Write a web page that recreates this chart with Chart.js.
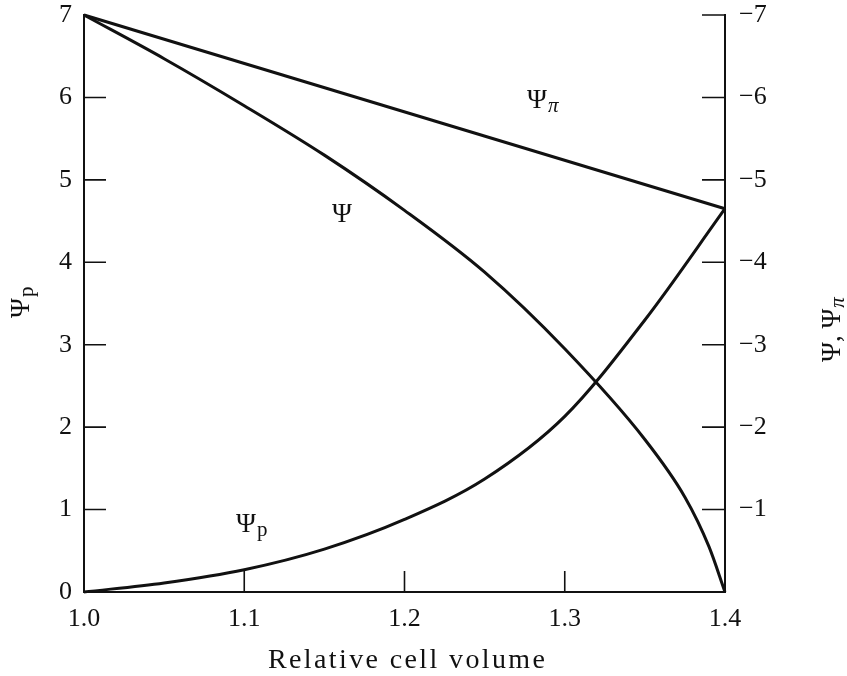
<!DOCTYPE html>
<html><head><meta charset="utf-8">
<script src="https://cdn.jsdelivr.net/npm/chart.js@4"></script>
<style>html,body{margin:0;padding:0;background:#fff}#wrap{width:847px;height:676px;position:relative}</style>
</head><body><div id="wrap"><canvas id="c"></canvas></div>
<script>
// ---- data ----
const xTicks = [1.0, 1.1, 1.2, 1.3, 1.4];
const leftTicks = [0, 1, 2, 3, 4, 5, 6, 7];
const rightTicks = [0, -1, -2, -3, -4, -5, -6, -7];

const psiPVolume = [1.00, 1.05, 1.10, 1.15, 1.20, 1.25, 1.30, 1.35, 1.40];
const psiPValues = [0, 0.11, 0.27, 0.52, 0.88, 1.37, 2.13, 3.30, 4.65];

const psiVolume = [1.00, 1.05, 1.10, 1.15, 1.20, 1.25, 1.30, 1.35, 1.375, 1.39, 1.40];
const psiValues = [-7, -6.47, -5.9, -5.3, -4.63, -3.88, -2.95, -1.85, -1.15, -0.55, 0];

const psiPiVolume = [1.0, 1.4];
const psiPiValues = [-7, -4.65];

const FONT = '"Liberation Serif", "Times New Roman", serif';
const INK = '#111';

const pts = (xs, ys) => xs.map((x, i) => ({x, y: ys[i]}));

function psiText(ctx, x, y, sub, size, rot, subItalic) {
  ctx.save();
  ctx.translate(x, y);
  ctx.rotate(rot || 0);
  ctx.fillStyle = INK;
  ctx.textAlign = 'left';
  ctx.textBaseline = 'alphabetic';
  ctx.font = size + 'px ' + FONT;
  ctx.fillText('Ψ', 0, 0);
  const w = ctx.measureText('Ψ').width;
  if (sub) {
    ctx.font = (subItalic ? 'italic ' : '') + Math.round(size * 0.78) + 'px ' + FONT;
    ctx.fillText(sub, w + 1, 4);
  }
  ctx.restore();
}

const decor = {
  id: 'decor',
  afterDraw(chart) {
    const ctx = chart.ctx;
    const {left, right, top, bottom} = chart.chartArea;
    const sx = chart.scales.x, sy = chart.scales.y, sy2 = chart.scales.y2;
    ctx.save();
    ctx.strokeStyle = INK;
    ctx.lineWidth = 1.6;
    ctx.beginPath();
    [1, 2, 3, 4, 5, 6].forEach(v => {
      const py = sy.getPixelForValue(v);
      ctx.moveTo(left, py); ctx.lineTo(left + 22, py);
    });
    [-1, -2, -3, -4, -5, -6, -7].forEach(v => {
      const py = sy2.getPixelForValue(v);
      ctx.moveTo(right, py); ctx.lineTo(right - 23, py);
    });
    [1.1, 1.2, 1.3].forEach(v => {
      const px = sx.getPixelForValue(v);
      ctx.moveTo(px, bottom); ctx.lineTo(px, bottom - 21);
    });
    ctx.stroke();
    ctx.restore();

    // curve labels
    psiText(ctx, 527, 108, 'π', 27, 0, true);
    psiText(ctx, 332, 222, '', 27, 0);
    psiText(ctx, 236, 532, 'p', 27, 0);

    // left axis title
    psiText(ctx, 29, 318, 'p', 27, -Math.PI / 2);

    // right axis title: "Ψ, Ψπ" read bottom to top
    ctx.save();
    ctx.translate(840, 362);
    ctx.rotate(-Math.PI / 2);
    ctx.fillStyle = INK;
    ctx.textBaseline = 'alphabetic';
    ctx.font = '27px ' + FONT;
    ctx.fillText('Ψ, Ψ', 0, 0);
    const w = ctx.measureText('Ψ, Ψ').width;
    ctx.font = 'italic 21px ' + FONT;
    ctx.fillText('π', w + 1, 4);
    ctx.restore();

    // x axis title
    ctx.save();
    ctx.fillStyle = INK;
    ctx.font = '28px ' + FONT;
    const title = 'Relative cell volume';
    const tw = ctx.measureText(title).width;
    const target = 277;
    if ('letterSpacing' in ctx) ctx.letterSpacing = ((target - tw) / (title.length - 1)).toFixed(2) + 'px';
    ctx.textAlign = 'left';
    ctx.textBaseline = 'alphabetic';
    ctx.fillText(title, 268, 668);
    ctx.restore();
  }
};

const lineStyle = {
  borderColor: INK, borderWidth: 3, pointRadius: 0, fill: false,
  cubicInterpolationMode: 'monotone', clip: false
};

const fitY = w => s => { s.width = w; s.paddingTop = 0; s.paddingBottom = 0; };

new Chart(document.getElementById('c'), {
  type: 'line',
  data: {
    datasets: [
      Object.assign({label: 'Ψp', data: pts(psiPVolume, psiPValues), yAxisID: 'y'}, lineStyle),
      Object.assign({label: 'Ψ', data: pts(psiVolume, psiValues), yAxisID: 'y2'}, lineStyle),
      Object.assign({label: 'Ψπ', data: pts(psiPiVolume, psiPiValues), yAxisID: 'y2'}, {borderColor: INK, borderWidth: 3, pointRadius: 0, fill: false, clip: false, tension: 0})
    ]
  },
  plugins: [decor],
  options: {
    responsive: true,
    maintainAspectRatio: false,
    animation: false,
    devicePixelRatio: 1,
    layout: {padding: {top: 15, left: 0, right: 0, bottom: 0}},
    plugins: {legend: {display: false}, tooltip: {enabled: false}},
    scales: {
      x: {
        type: 'linear', min: 1.0, max: 1.4,
        afterBuildTicks: s => { s.ticks = xTicks.map(v => ({value: v})); },
        afterFit: s => { s.height = 84; s.paddingLeft = 0; s.paddingRight = 0; },
        ticks: {color: INK, font: {family: FONT, size: 26}, padding: 12, maxRotation: 0,
                callback: v => Number(v).toFixed(1)},
        grid: {display: true, drawOnChartArea: false, drawTicks: false},
        border: {display: true, color: INK, width: 2}
      },
      y: {
        type: 'linear', position: 'left', min: 0, max: 7,
        afterBuildTicks: s => { s.ticks = leftTicks.map(v => ({value: v})); },
        afterFit: fitY(84),
        ticks: {color: INK, font: {family: FONT, size: 26}, padding: 12},
        grid: {display: true, drawOnChartArea: false, drawTicks: false},
        border: {display: true, color: INK, width: 2}
      },
      y2: {
        type: 'linear', position: 'right', min: -7, max: 0, reverse: true,
        afterBuildTicks: s => { s.ticks = rightTicks.map(v => ({value: v})); },
        afterFit: fitY(122),
        ticks: {color: INK, font: {family: FONT, size: 26}, padding: 14,
                callback: v => v === 0 ? '' : '−' + Math.abs(v)},
        grid: {display: true, drawOnChartArea: false, drawTicks: false},
        border: {display: true, color: INK, width: 2}
      }
    }
  }
});
</script>
</body></html>
